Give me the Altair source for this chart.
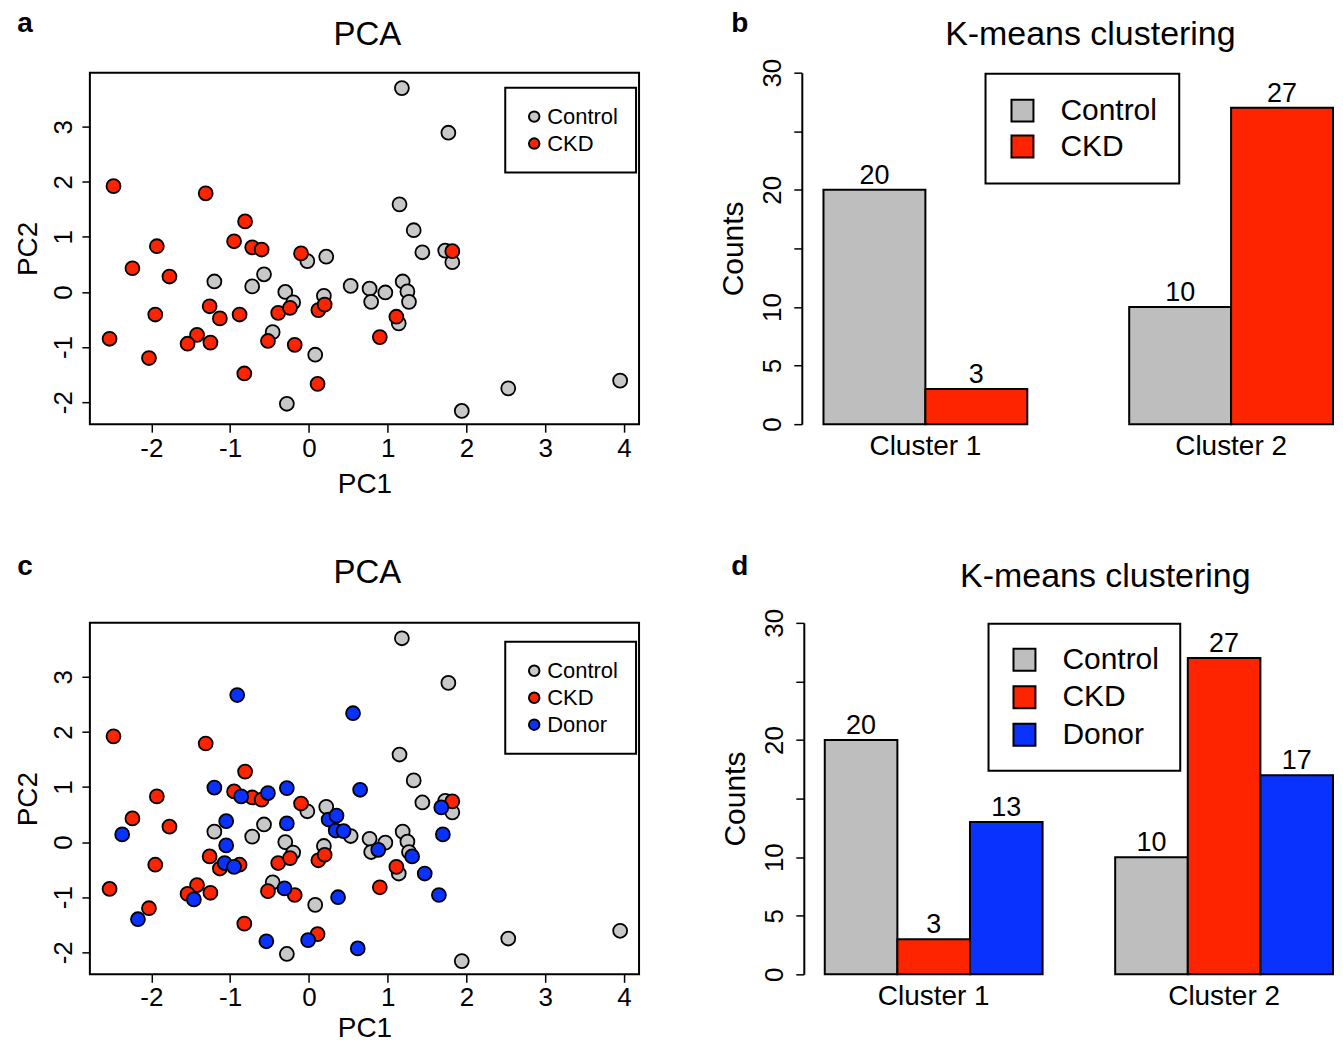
import altair as alt
import pandas as pd

FONT = "Liberation Sans"

# ---------------- data ----------------
control_pc1 = [0.22, -0.02, -1.20, -0.57, -0.72, -0.30, -0.20, 0.19, -0.46, 0.08, -0.28, 0.53,
               1.18, 1.77, 1.15, 1.33, 1.44, 1.73, 1.82, 0.77, 0.79, 0.97, 1.19, 1.25, 1.27,
               1.14, 2.53, 1.94, 3.95]
control_pc2 = [0.64, 0.56, 0.19, 0.32, 0.10, 0.00, -0.19, -0.07, -0.73, -1.14, -2.03, 0.11,
               3.70, 2.89, 1.59, 1.12, 0.72, 0.75, 0.54, 0.06, -0.18, -0.01, 0.19, 0.01, -0.18,
               -0.57, -1.75, -2.16, -1.61]

ckd_pc1 = [-2.48, -1.31, -0.81, -0.95, -0.72, -0.60, -1.93, -2.24, -1.77, -0.10, -1.26, -1.13,
           -0.88, -1.95, -0.39, -0.24, 0.12, 0.20, -2.53, -2.03, -1.42, -1.54, -1.25, -0.52,
           -0.18, -0.82, 0.11, 1.82, 1.11, 0.90]
ckd_pc2 = [1.92, 1.79, 1.28, 0.92, 0.81, 0.77, 0.83, 0.43, 0.28, 0.70, -0.26, -0.48,
           -0.41, -0.41, -0.38, -0.29, -0.33, -0.23, -0.85, -1.20, -0.78, -0.94, -0.92, -0.89,
           -0.96, -1.48, -1.67, 0.74, -0.45, -0.82]

donor_pc1 = [-0.91, 0.56, -1.20, -0.86, -0.52, -0.28, 0.65, -1.05, -0.28, 0.25, 0.35, 0.34,
             0.44, -2.37, -1.05, -1.07, -0.95, -0.31, -1.46, 0.37, -2.17, -0.54, -0.01, 0.62,
             1.68, 1.70, 0.88, 1.31, 1.47, 1.65]
donor_pc2 = [2.67, 2.34, 0.99, 0.83, 0.89, 0.98, 0.95, 0.38, 0.34, 0.41, 0.48, 0.21,
             0.20, 0.14, -0.06, -0.38, -0.45, -0.84, -1.04, -1.00, -1.40, -1.80, -1.78, -1.93,
             0.63, 0.14, -0.14, -0.26, -0.57, -0.96]

clusters = ["Cluster 1", "Cluster 2"]
counts_control = [20, 10]
counts_ckd = [3, 27]
counts_donor = [13, 17]

groups2 = ["Control", "CKD"]
groups3 = ["Control", "CKD", "Donor"]
point_colors = {"Control": "#C8C8C8", "CKD": "#FF2400", "Donor": "#0A32FF"}
bar_colors = {"Control": "#BEBEBE", "CKD": "#FF2400", "Donor": "#0A32FF"}


def pts_frame(groups):
    rows = []
    src = {"Control": (control_pc1, control_pc2), "CKD": (ckd_pc1, ckd_pc2),
           "Donor": (donor_pc1, donor_pc2)}
    for g in groups:
        xs, ys = src[g]
        for a, b in zip(xs, ys):
            rows.append({"PC1": a, "PC2": b, "group": g})
    return pd.DataFrame(rows)


def bar_frame(groups):
    src = {"Control": counts_control, "CKD": counts_ckd, "Donor": counts_donor}
    rows = []
    for ci, c in enumerate(clusters):
        for g in groups:
            rows.append({"cluster": c, "group": g, "count": src[g][ci]})
    return pd.DataFrame(rows)


def text_layer(text, dx, dy, size, weight, baseline):
    return alt.Chart(pd.DataFrame({"t": [text]})).mark_text(
        font=FONT, fontSize=size, fontWeight=weight, align="center",
        baseline=baseline, color="black"
    ).encode(text="t:N", x=alt.value(dx), y=alt.value(dy))


def pca_panel(groups, letter, letter_dy, title_dy, legend_y, row_pad, pad,
              lab_pad, tit_pad):
    df = pts_frame(groups)
    pts = alt.Chart(df).mark_circle(
        size=195, opacity=1, stroke="black", strokeWidth=1.8
    ).encode(
        x=alt.X("PC1:Q",
                scale=alt.Scale(domain=[-2.78, 4.19], nice=False, zero=False),
                axis=alt.Axis(values=[-2, -1, 0, 1, 2, 3, 4], title="PC1", domain=False,
                              labelExpr="'' + datum.value",
                              grid=False, tickSize=8, tickWidth=1.5, tickColor="black",
                              labelFontSize=26, labelPadding=lab_pad, labelColor="black",
                              labelFont=FONT, labelFlush=False, titleFont=FONT,
                              titleFontSize=28, titleFontWeight="normal",
                              titleColor="black", titlePadding=tit_pad)),
        y=alt.Y("PC2:Q",
                scale=alt.Scale(domain=[-2.40, 3.98], nice=False, zero=False),
                axis=alt.Axis(values=[-2, -1, 0, 1, 2, 3], title="PC2", domain=False,
                              labelExpr="'' + datum.value",
                              grid=False, tickSize=8, tickWidth=1.5, tickColor="black",
                              labelFontSize=26, labelPadding=5, labelColor="black",
                              labelFont=FONT, labelAngle=270, labelAlign="center",
                              labelBaseline="bottom", labelFlush=False, titleFont=FONT,
                              titleFontSize=28, titleFontWeight="normal",
                              titleColor="black", titlePadding=8)),
        fill=alt.Fill("group:N",
                      scale=alt.Scale(domain=groups,
                                      range=[point_colors[g] for g in groups]),
                      legend=alt.Legend(title=None, orient="none", legendX=416,
                                        legendY=legend_y, direction="vertical",
                                        symbolType="circle", symbolSize=110,
                                        symbolStrokeColor="black", symbolStrokeWidth=2,
                                        symbolOpacity=1, labelFontSize=22,
                                        labelFont=FONT, labelColor="black",
                                        labelOffset=2, rowPadding=row_pad, padding=pad,
                                        strokeColor="black", fillColor="white",
                                        cornerRadius=0)),
    )
    return alt.layer(
        pts,
        text_layer(letter, -65, letter_dy, 28, "bold", "alphabetic"),
        text_layer("PCA", 278, title_dy, 33, "normal", "middle"),
    ).properties(
        width=550, height=352,
        view=alt.ViewBackground(stroke="black", strokeWidth=2),
    )


def bar_panel(groups, letter, letter_dx, letter_dy, width, height, bar_start, bar_end,
              title_dx, title_dy, legend_x, row_pad, pad):
    # band-scale paddings so that the bars run from bar_start to bar_end (px in panel)
    n_bars = len(groups)
    gap_ratio = 1.0 / n_bars          # R barplot: one empty bar width between groups
    band_frac = 1.0 / (1.0 + gap_ratio)
    span = bar_end - bar_start
    step = span / (1.0 + band_frac)
    p_in = 1.0 - band_frac
    extra = width - step * (2.0 - p_in)
    p_out = extra / (2.0 * step)
    align = min(1.0, bar_start / extra) if extra > 0 else 0.5

    df = bar_frame(groups)
    base = alt.Chart(df)
    xo = alt.XOffset("group:N", scale=alt.Scale(domain=groups, paddingInner=0,
                                                 paddingOuter=0))
    x_axis = alt.Axis(title=None, domain=False, ticks=False, labelAngle=0,
                      labelFontSize=28, labelPadding=8, labelFont=FONT,
                      labelColor="black")
    y_axis = alt.Axis(values=[0, 5, 10, 15, 20, 25, 30],
                      labelExpr="datum.value == 15 || datum.value == 25 ? '' : datum.label",
                      title="Counts", grid=False, domainColor="black",
                      domainWidth=2, tickSize=8, tickWidth=1.5, tickColor="black",
                      labelAngle=270, labelAlign="center", labelBaseline="bottom",
                      labelFontSize=26, labelPadding=8, labelColor="black",
                      labelFont=FONT, labelFlush=False, titleFont=FONT,
                      titleFontSize=30, titleFontWeight="normal",
                      titleColor="black", titlePadding=11)
    x_enc = alt.X("cluster:N",
                  scale=alt.Scale(domain=clusters, paddingInner=p_in, paddingOuter=p_out,
                                  align=align),
                  axis=x_axis)
    y_enc = alt.Y("count:Q", scale=alt.Scale(domain=[0, 30], nice=False, zero=True),
                  axis=y_axis)
    bars = base.mark_bar(stroke="black", strokeWidth=2, opacity=1).encode(
        x=x_enc,
        xOffset=xo,
        y=y_enc,
        fill=alt.Fill("group:N",
                      scale=alt.Scale(domain=groups, range=[bar_colors[g] for g in groups]),
                      legend=alt.Legend(title=None, orient="none", legendX=legend_x,
                                        legendY=1, direction="vertical",
                                        symbolType="square", symbolSize=484,
                                        symbolStrokeColor="black", symbolStrokeWidth=2,
                                        symbolOpacity=1, labelFontSize=30,
                                        labelFont=FONT, labelColor="black",
                                        labelOffset=23, rowPadding=row_pad, padding=pad,
                                        strokeColor="black", fillColor="white",
                                        cornerRadius=0)),
    )
    labels = base.mark_text(font=FONT, fontSize=27, baseline="alphabetic", dy=-6,
                            color="black").encode(
        x=x_enc,
        xOffset=xo,
        y=y_enc,
        text="count:Q",
    )
    return alt.layer(
        bars, labels,
        text_layer(letter, letter_dx, letter_dy, 28, "bold", "alphabetic"),
        text_layer("K-means clustering", title_dx, title_dy, 34, "normal", "middle"),
    ).properties(
        width=width, height=height,
        view=alt.ViewBackground(stroke="transparent"),
    )


panel_a = pca_panel(groups2, "a", -41, -38, 15, 5, 18, 3, 9)
panel_b = bar_panel(groups2, "b", -62, -41, 532, 352, 21.7, 532,
                    289, -38, 184, 6, 22)
panel_c = pca_panel(groups3, "c", -48, -50, 19, 5, 18, 2, 4)
panel_d = bar_panel(groups3, "d", -64, -48, 530, 352, 21.0, 530,
                    302, -46, 185, 7.5, 21)

row1 = alt.hconcat(panel_a, panel_b, spacing=78).resolve_scale(
    fill="independent", xOffset="independent").resolve_legend(fill="independent")
row2 = alt.hconcat(panel_c, panel_d, spacing=80).resolve_scale(
    fill="independent", xOffset="independent").resolve_legend(fill="independent")

chart = alt.vconcat(row1, row2, spacing=53).resolve_scale(
    fill="independent", xOffset="independent").resolve_legend(fill="independent").properties(
    padding={"left": 6, "top": 0, "right": 0, "bottom": 0}
).configure(background="white").configure_view(stroke="transparent").configure_legend(
    strokeWidth=2)

chart.save("out.html", embed_options={"renderer": "svg", "actions": False})
